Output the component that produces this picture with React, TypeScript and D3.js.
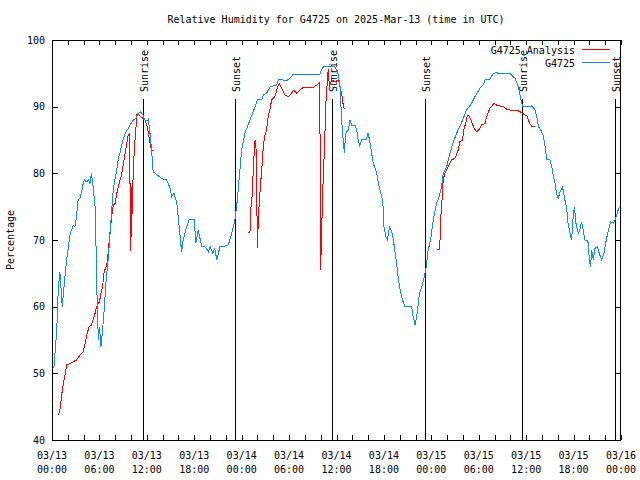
import React from "react";
import * as d3 from "d3";

// Time in hours since 03/13 00:00 UTC, relative humidity in %
const BLUE: [number, number][] = [
  [0, 50.5], [0.25, 51], [0.6, 56.5], [0.8, 62.8], [1.0, 65.2], [1.3, 60], [1.65, 64.7], [1.85, 67],
  [2.3, 71], [2.7, 72.2], [2.9, 72], [3.1, 73.5], [3.3, 76], [3.55, 76.3], [3.75, 77.2], [3.95, 78.5],
  [4.1, 79], [4.4, 78.7], [4.6, 79], [4.8, 78.5], [5.0, 80], [5.2, 78], [5.45, 75], [5.55, 70.5],
  [5.65, 63.5], [5.8, 58], [5.85, 55], [6.0, 57], [6.2, 54], [6.4, 56.5], [6.6, 59.5], [6.85, 64],
  [7.1, 67], [7.35, 71], [7.55, 74.5], [7.75, 77.5], [8.0, 79.3], [8.2, 80.5], [8.4, 82.3], [8.6, 83],
  [8.8, 84.2], [9.0, 85], [9.25, 86], [9.65, 86.75], [9.85, 87.2], [10.3, 88], [10.6, 88.25], [10.9, 89],
  [11.2, 89.2], [11.5, 88.75], [11.75, 88], [12.05, 87.9], [12.2, 88.1], [12.4, 86], [12.6, 83.5], [12.8, 80.25],
  [13.05, 80], [13.9, 79.2], [14.5, 79], [14.95, 77.8], [15.15, 76.5], [15.45, 77], [15.8, 75.5], [16.1, 72],
  [16.4, 68.25], [16.6, 70], [17.05, 72], [17.35, 73.1], [18.0, 73.1], [18.2, 69.5], [18.5, 71.5], [18.95, 69],
  [19.35, 69], [19.8, 68.25], [20.0, 69], [20.35, 68], [20.6, 68.75], [20.85, 67], [21.25, 69], [21.7, 69],
  [22.3, 69.25], [22.75, 71], [23.15, 73], [23.45, 76], [23.7, 79.5], [24.0, 83.5], [24.4, 86], [25.05, 88],
  [25.7, 90], [26.0, 91.1], [26.55, 91.1], [26.75, 91.75], [27.15, 92], [27.6, 93], [28.45, 93.25], [28.65, 94.1],
  [29.7, 93.9], [30.1, 94.25], [30.55, 94.9], [33.9, 94.9], [34.1, 95.5], [34.35, 96], [35.2, 96.1], [35.8, 96],
  [36.15, 95.25], [36.45, 93], [36.65, 88], [36.85, 85], [37.0, 83], [37.15, 86], [37.5, 86.5], [37.7, 88],
  [37.9, 87.25], [38.35, 87.25], [38.55, 86.5], [38.75, 85], [38.95, 84.1], [39.2, 85.1], [39.8, 85.1], [40.0, 86.1],
  [40.25, 84.5], [40.65, 81.5], [41.1, 80], [41.3, 78.5], [41.6, 77], [41.85, 76], [42.0, 72], [42.25, 70.5],
  [42.45, 70], [42.7, 72], [43.0, 71.25], [43.2, 70], [43.55, 67], [43.8, 64.5], [44.05, 62.5], [44.35, 61],
  [44.65, 60], [45.5, 60], [45.7, 58.5], [45.95, 57.25], [46.2, 59], [46.5, 62], [46.8, 63], [47.1, 64.5],
  [47.3, 65.5], [47.6, 68.5], [47.9, 70], [48.25, 73], [48.65, 75.5], [49.0, 76.5], [49.3, 78], [49.5, 80],
  [49.95, 81], [50.35, 83], [50.8, 84.75], [51.2, 86], [51.6, 87], [52.05, 88.25], [52.45, 89.5], [53.1, 90.5],
  [53.3, 91], [53.75, 92], [54.15, 92.75], [54.55, 93.25], [54.8, 94], [55.4, 94.1], [55.85, 95], [56.25, 95.1],
  [56.7, 94.9], [57.1, 95], [57.95, 95], [58.35, 94.5], [58.6, 94.25], [59.0, 93], [59.3, 91.25], [59.55, 90],
  [60.7, 90.1], [61.1, 89.6], [61.35, 88.5], [61.55, 87], [61.85, 86.5], [62.2, 85.5], [62.4, 84], [62.6, 82.1],
  [63.0, 82], [63.2, 81.25], [63.45, 79.5], [63.65, 78.5], [63.85, 77], [64.05, 76.25], [64.3, 77.25], [64.6, 78],
  [64.9, 76], [65.1, 75], [65.3, 72.5], [65.55, 71], [65.75, 70], [65.95, 73.5], [66.1, 75], [66.3, 72.5],
  [66.6, 71], [66.8, 71.5], [67.0, 72.75], [67.25, 71.25], [67.45, 70], [67.8, 70], [68.0, 67], [68.15, 66],
  [68.3, 68.5], [68.5, 67], [68.7, 68.75], [69.0, 69], [69.25, 68], [69.55, 67], [69.85, 68], [70.1, 69.75],
  [70.4, 71.5], [70.7, 72.75], [71.05, 72.5], [71.4, 73.5], [71.7, 74.75], [71.9, 75], [72.0, 74],
];

// null marks a gap in the analysis series
const RED: ([number, number] | null)[] = [
  [0.8, 43.75], [1.0, 44.5], [1.25, 47], [1.45, 48.5], [1.65, 49.75], [1.85, 51.25], [2.3, 51.5], [2.7, 51.75],
  [3.1, 52], [3.55, 52.75], [3.95, 53.25], [4.2, 54.5], [4.45, 56], [4.7, 57], [5.0, 57.25], [5.2, 58],
  [5.45, 59], [5.65, 60], [6.0, 60.75], [6.2, 62], [6.4, 63], [6.6, 65.25], [6.85, 66], [7.05, 67],
  [7.1, 68.25], [7.35, 71.25], [7.55, 73.5], [7.75, 75.25], [8.0, 75.5], [8.2, 77], [8.4, 78], [8.6, 79],
  [8.8, 79.75], [9.0, 81.25], [9.25, 83], [9.45, 84.5], [9.65, 85.75], [9.85, 86], [9.9, 68.3], [10.0, 78],
  [10.05, 70.5], [10.15, 75], [10.3, 81], [10.5, 85], [10.65, 87.25], [10.7, 88.9], [10.9, 88.9], [11.15, 88.6],
  [11.5, 88.25], [11.75, 88], [12.0, 87.25], [12.2, 86], [12.4, 84.5], [12.6, 83.5], [12.95, 83.5],
  null,
  [24.75, 71.1], [25.05, 71.1], [25.15, 74.5], [25.35, 77], [25.5, 81.5], [25.7, 85], [25.8, 85], [25.9, 77],
  [26.0, 68.75], [26.1, 73], [26.25, 76], [26.4, 78.5], [26.6, 81.5], [26.75, 84.25], [26.95, 85.75], [27.15, 86.5],
  [27.35, 88.5], [27.6, 89.75], [27.8, 91], [28.2, 91.5], [28.5, 92.75], [28.75, 93.5], [29.05, 92.75], [29.5, 91.75],
  [29.9, 91.5], [30.3, 92], [30.6, 92.5], [30.9, 92], [31.3, 92.4], [31.8, 92.9], [33.05, 92.9], [33.5, 93.25],
  [33.9, 93.6], [33.95, 65.5], [34.05, 68], [34.15, 72.5], [34.25, 77], [34.4, 81.5], [34.55, 86.5], [34.65, 90.5],
  [34.85, 94], [34.95, 95.6], [35.1, 93], [35.4, 94], [35.8, 93.75], [36.25, 94], [36.45, 93], [36.65, 92],
  [36.85, 90.25], [37.0, 89.6],
  null,
  [48.75, 68.6], [49.0, 68.6], [49.1, 70], [49.2, 73.5], [49.3, 75], [49.5, 79], [49.7, 80], [50.15, 81],
  [50.55, 82], [51.0, 82.25], [51.4, 83.5], [51.6, 84.75], [51.95, 85], [52.1, 86.5], [52.4, 87.75], [52.55, 88.75],
  [52.8, 88.6], [53.1, 87.75], [53.4, 86.75], [53.75, 86.25], [54.05, 86.6], [54.35, 87.25], [54.8, 87.5], [55.0, 88.5],
  [55.4, 89.75], [55.65, 90.1], [55.95, 90.5], [56.25, 90.25], [56.7, 90.1], [57.1, 90], [57.55, 89.6], [57.95, 89.5],
  [58.8, 89.5], [59.2, 89.25], [59.55, 89], [59.85, 88.75], [60.05, 88.75], [60.25, 88.1], [60.45, 87.5], [60.75, 87],
  [61.1, 87],
];

const SUN_EVENTS: [number, string][] = [
  [11.55, "Sunrise"], [23.16, "Sunset"], [35.47, "Sunrise"], [47.24, "Sunset"], [59.51, "Sunrise"], [71.28, "Sunset"],
];

const Y_TICKS = [40, 50, 60, 70, 80, 90, 100];
const X_LABEL_HOURS = [0, 6, 12, 18, 24, 30, 36, 42, 48, 54, 60, 66, 72];
const X_MINOR_HOURS = d3.range(0, 73, 2);

const TITLE = "Relative Humidity for G4725 on 2025-Mar-13 (time in UTC)";
const Y_LABEL = "Percentage";
const SERIES_NAMES = ["G4725 Analysis", "G4725"];

const FONT = "'DejaVu Sans Mono', monospace";

export default function App() {
  const W = 640, H = 480;
  const L = 52, R = 621, T = 40, B = 440;
  const x = d3.scaleLinear().domain([0, 72]).range([L, R]);
  const y = d3.scaleLinear().domain([40, 100]).range([B, T]);

  const blueLine = d3.line<[number, number]>().x(d => x(d[0])).y(d => y(d[1]));
  const redLine = d3
    .line<[number, number] | null>()
    .defined(d => d !== null)
    .x(d => x((d as [number, number])[0]))
    .y(d => y((d as [number, number])[1]));

  const fmtLabel = (h: number) => {
    const day = 13 + Math.floor(h / 24);
    const hr = h % 24;
    return [`03/${day}`, `${String(hr).padStart(2, "0")}:00`];
  };

  const sunTop = y(91.2);

  return (
    <svg width={W} height={H} style={{ position: "absolute", left: 0, top: 0, background: "#fff" }} fontFamily={FONT} fontSize={10}>
      <rect x={0} y={0} width={W} height={H} fill="#fff" />
      <text x={336} y={23} textAnchor="middle" fontSize={10}>{TITLE}</text>

      {/* Y ticks */}
      {Y_TICKS.map(v => (
        <g key={v} shapeRendering="crispEdges">
          <line x1={L} x2={L + 6} y1={Math.round(y(v)) + 0.5} y2={Math.round(y(v)) + 0.5} stroke="#000" />
          <line x1={R - 6} x2={R} y1={Math.round(y(v)) + 0.5} y2={Math.round(y(v)) + 0.5} stroke="#000" />
          <text x={45} y={y(v)} dy="0.35em" textAnchor="end">{v}</text>
        </g>
      ))}

      {/* X ticks */}
      {X_MINOR_HOURS.map(h => (
        <g key={h} shapeRendering="crispEdges">
          <line x1={Math.round(x(h)) + 0.5} x2={Math.round(x(h)) + 0.5} y1={B} y2={B - 5} stroke="#000" />
          <line x1={Math.round(x(h)) + 0.5} x2={Math.round(x(h)) + 0.5} y1={T} y2={T + 5} stroke="#000" />
        </g>
      ))}
      {X_LABEL_HOURS.map(h => {
        const [a, b] = fmtLabel(h);
        return (
          <g key={h}>
            <text x={x(h)} y={459} textAnchor="middle">{a}</text>
            <text x={x(h)} y={473} textAnchor="middle">{b}</text>
          </g>
        );
      })}

      <text transform={`translate(14,${(T + B) / 2}) rotate(-90)`} textAnchor="middle">{Y_LABEL}</text>

      {/* Sunrise / sunset markers */}
      {SUN_EVENTS.map(([h, label], i) => (
        <g key={i}>
          <line x1={Math.round(x(h)) + 0.5} x2={Math.round(x(h)) + 0.5} y1={sunTop} y2={B} stroke="#000" shapeRendering="crispEdges" />
          <text transform={`translate(${x(h) + 1},92) rotate(-90)`} dy="0.35em" textAnchor="start">{label}</text>
        </g>
      ))}

      <path d={redLine(RED) || ""} fill="none" stroke="#ff0000" strokeWidth={1} shapeRendering="crispEdges" />
      <path d={blueLine(BLUE) || ""} fill="none" stroke="#0f87ff" strokeWidth={1} shapeRendering="crispEdges" />

      {/* Legend */}
      <text x={575} y={54} textAnchor="end">{SERIES_NAMES[0]}</text>
      <line x1={582} x2={610} y1={49.5} y2={49.5} stroke="#ff0000" shapeRendering="crispEdges" />
      <text x={575} y={67} textAnchor="end">{SERIES_NAMES[1]}</text>
      <line x1={582} x2={610} y1={62.5} y2={62.5} stroke="#0f87ff" shapeRendering="crispEdges" />

      <rect x={L + 0.5} y={T + 0.5} width={R - L - 1} height={B - T} fill="none" stroke="#000" shapeRendering="crispEdges" />
    </svg>
  );
}
